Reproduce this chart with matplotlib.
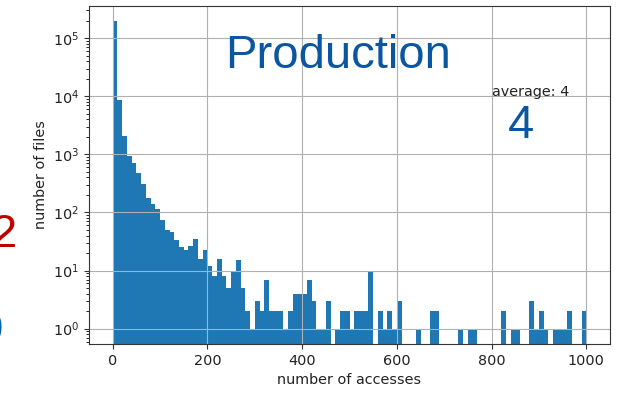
import numpy as np
import matplotlib
matplotlib.use('Agg')
import matplotlib.pyplot as plt

# histogram of file access counts: 100 bins of width 10 over 0..1000
bin_edges = np.arange(0, 1001, 10)
file_counts = [
    195000, 8700, 2070, 950, 720, 470, 310, 177, 140, 117,
    75, 50, 47, 34, 25, 23, 26, 35, 16, 23,
    12, 8, 16, 8, 5, 10, 15, 5, 2, 1,
    3, 2, 7, 2, 2, 2, 1, 2, 4, 4,
    4, 7, 3, 1, 1, 3, 0, 1, 2, 2,
    1, 2, 2, 2, 10, 0, 2, 1, 2, 1,
    3, 0, 0, 0, 1, 0, 0, 2, 2, 0,
    0, 0, 0, 1, 0, 1, 1, 0, 0, 0,
    0, 0, 2, 0, 1, 1, 0, 0, 3, 1,
    2, 1, 0, 1, 1, 1, 2, 0, 0, 2,
]
x_ticks = [0, 200, 400, 600, 800, 1000]

title_text = 'Production'
average_label = 'average: 4'
average_big = '4'

BLUE = '#0b56a0'
RED = '#c00000'

W, H = 621, 393
fig = plt.figure(figsize=(W / 100, H / 100), dpi=100)
ax = fig.add_axes([89 / W, 1 - 344 / H, (610 - 89) / W, (344 - 6) / H])

centers = (bin_edges[:-1] + bin_edges[1:]) / 2
ax.hist(centers, bins=bin_edges, weights=file_counts, log=True, color='#1f77b4')
ax.grid(True, color='#b0b0b0', linewidth=0.8)
ax.set_xticks(x_ticks)
ax.tick_params(labelsize=10.4, colors='#333333', labelcolor='#222222')
for s in ax.spines.values():
    s.set_color('#333333')
ax.set_xlabel('number of accesses', fontsize=10.4, color='#222222')
ax.set_ylabel('number of files', fontsize=10.4, color='#222222')

ax.text(800, 1e4, average_label, fontsize=10.4, color='#222222')

# slide overlay texts (partly cut off at the left edge, as in the slide)
big = dict(family='Liberation Sans', fontsize=34)
fig.text(338 / W, 1 - 68 / H, title_text, color=BLUE, ha='center', va='baseline', **big)
fig.text(521 / W, 1 - 138 / H, average_big, color=BLUE, ha='center', va='baseline', **big)
fig.text(17 / W, 1 - 247 / H, '2', color=RED, ha='right', va='baseline', **big)
fig.text(3 / W, 1 - 343 / H, '0', color='#0060b0', ha='right', va='baseline', **big)

fig.savefig('out.png', dpi=100)
